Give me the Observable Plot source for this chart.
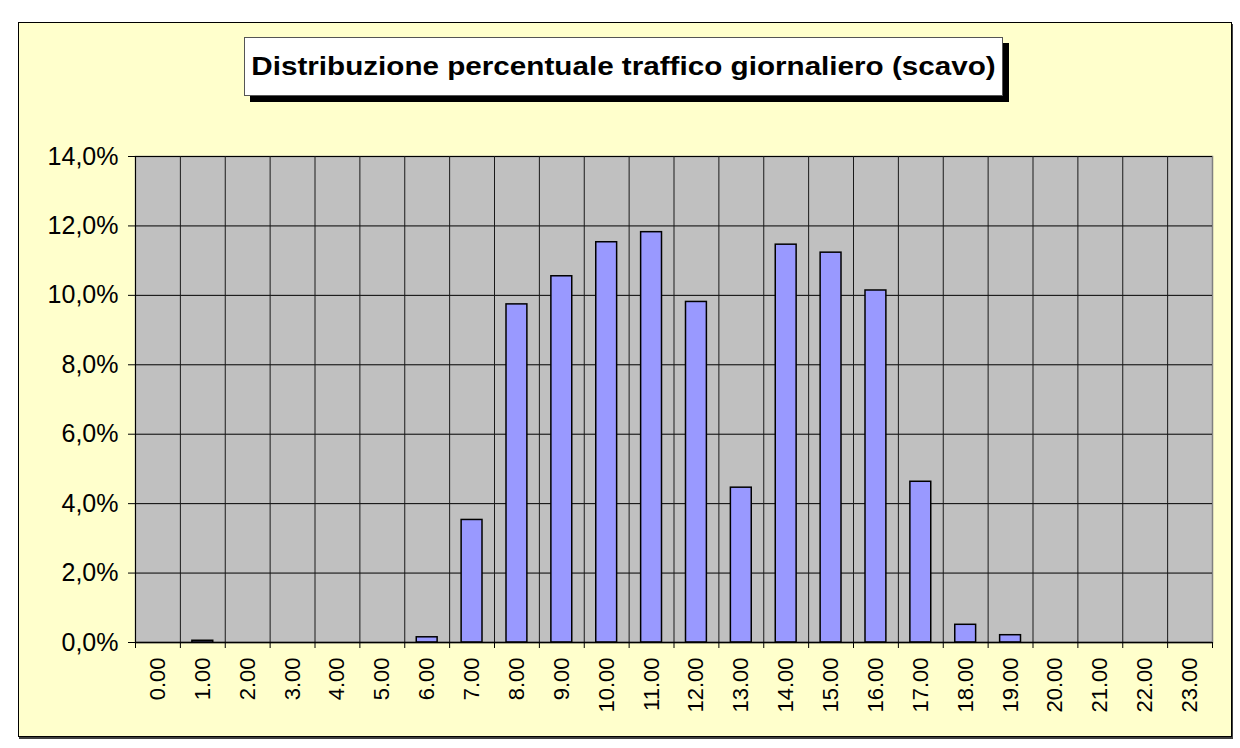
<!DOCTYPE html>
<html>
<head>
<meta charset="utf-8">
<script src="https://cdn.jsdelivr.net/npm/d3@7"></script>
<script src="https://cdn.jsdelivr.net/npm/@observablehq/plot@0.6"></script>
<style>
  html, body { margin: 0; padding: 0; background: #ffffff; }
  body { width: 1240px; height: 748px; position: relative; overflow: hidden; font-family: "Liberation Sans", Arial, sans-serif; }
  #frame { position: absolute; left: 18px; top: 22px; width: 1212px; height: 713px; background: #FFFFCC; border: 1px solid #000; box-shadow: 1px 2px 0 #404040; }
  #titlebox { position: absolute; left: 244px; top: 37px; width: 757px; height: 57px; background: #fff; border: 1px solid #555; box-shadow: 6px 6px 0 #000; display: flex; align-items: center; justify-content: center; }
  #title { font-weight: bold; font-size: 26px; color: #000; white-space: nowrap; transform: scaleX(1.14); letter-spacing: 0; }
  #chart { position: absolute; left: 0; top: 0; }
</style>
</head>
<body>
<div id="frame"></div>
<div id="titlebox"><div id="title">Distribuzione percentuale traffico giornaliero (scavo)</div></div>
<div id="chart"></div>
<script>
// Tick labels (hours of the day)
const hourLabels = ["0.00","1.00","2.00","3.00","4.00","5.00","6.00","7.00","8.00","9.00","10.00","11.00",
                    "12.00","13.00","14.00","15.00","16.00","17.00","18.00","19.00","20.00","21.00","22.00","23.00"];
// Percentage of daily traffic per hour
const shares = [0, 0.05, 0, 0, 0, 0, 0.15, 3.53, 9.74, 10.55, 11.53, 11.82,
                9.81, 4.46, 11.46, 11.23, 10.14, 4.63, 0.51, 0.21, 0, 0, 0, 0];
// Y axis ticks
const yTicks = [0, 2, 4, 6, 8, 10, 12, 14];

const data = hourLabels.map((label, i) => ({i, label, v: shares[i]}));
const fmtY = d => d.toFixed(1).replace(".", ",") + "%";
const bounds = d3.range(hourLabels.length + 1);
const centers = hourLabels.map((_, i) => i + 0.5);

const chart = Plot.plot({
  width: 1240,
  height: 748,
  marginLeft: 135,
  marginRight: 28,
  marginTop: 156,
  marginBottom: 106,
  style: { background: "transparent", color: "#000", fontFamily: "'Liberation Sans', Arial, sans-serif", overflow: "visible" },
  x: { domain: [0, hourLabels.length] },
  y: { domain: [0, 14] },
  marks: [
    Plot.frame({ fill: "#C0C0C0", stroke: "#808080", strokeWidth: 1.5 }),
    Plot.gridY(yTicks.slice(1), { stroke: "#000", strokeOpacity: 1, strokeWidth: 1 }),
    Plot.gridX(bounds.slice(1, -1), { stroke: "#1a1a1a", strokeOpacity: 1, strokeWidth: 1 }),
    Plot.rectY(data.filter(d => d.v > 0), {
      x1: "i", x2: d => d.i + 1, y: "v",
      insetLeft: 12, insetRight: 12,
      fill: "#9999FF", stroke: "#000", strokeWidth: 1.5
    }),
    Plot.ruleX([0], { stroke: "#000", strokeWidth: 1 }),
    Plot.ruleY([0], { stroke: "#000", strokeWidth: 1.5 }),
    Plot.axisY({ ticks: yTicks, tickFormat: fmtY, tickSize: 7, tickPadding: 10, fontSize: 25, label: null }),
    Plot.axisX({ ticks: bounds, tickFormat: () => "", tickSize: 6, label: null }),
    Plot.axisX({ ticks: centers, tickFormat: d => hourLabels[Math.floor(d)], tickSize: 0, tickPadding: 15, tickRotate: -90, fontSize: 22, label: null })
  ]
});
document.getElementById("chart").appendChild(chart);
</script>
</body>
</html>
